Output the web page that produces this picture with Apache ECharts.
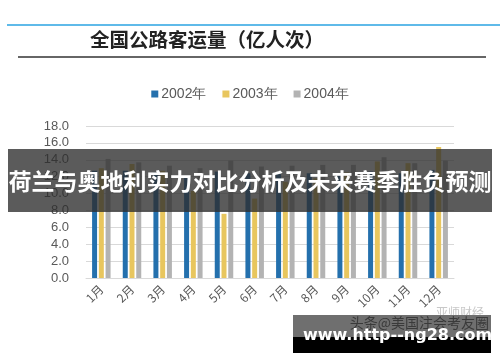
<!DOCTYPE html>
<html><head><meta charset="utf-8">
<script src="https://cdn.jsdelivr.net/npm/echarts@6/dist/echarts.min.js"></script>
<style>html,body{margin:0;padding:0;background:#fff}#c{width:500px;height:362px}</style>
</head><body><div id="c"></div>
<script>
const months = ['1月','2月','3月','4月','5月','6月','7月','8月','9月','10月','11月','12月'];
const yTicks = [0,2,4,6,8,10,12,14,16,18];
const s2002 = [12.7,12.7,12.5,12.0,12.6,12.4,12.3,12.4,12.4,12.6,12.4,12.8];
const s2003 = [13.0,13.5,12.7,10.3,7.6,9.4,11.4,11.8,12.5,13.8,13.6,15.5];
const s2004 = [14.1,13.7,13.3,13.0,13.9,13.2,13.3,13.4,13.4,14.3,13.6,13.9];
const seriesNames = ['2002年','2003年','2004年'];
const colors = ['#2470ad','#e8c65e','#b3b3b3'];

const chart = echarts.init(document.getElementById('c'));
const font = '"Noto Sans CJK SC","Noto Sans",sans-serif';
chart.setOption({
  animation:false,
  color:colors,
  textStyle:{fontFamily:font},
  legend:{
    top:82, left:'center', itemWidth:7, itemHeight:7, itemGap:16,
    icon:'rect',
    textStyle:{fontSize:14,color:'#595959',fontFamily:'"Liberation Sans",Arial,sans-serif',padding:[0,0,0,-2]},
    data:seriesNames
  },
  grid:{left:86,right:46,top:126,bottom:84},
  xAxis:{
    type:'category', data:months,
    axisLine:{lineStyle:{color:'#d9d9d9'}},
    axisTick:{show:false},
    axisLabel:{rotate:45,color:'#595959',fontSize:12,margin:9,interval:0}
  },
  yAxis:{
    type:'value', min:0, max:18, interval:2,
    axisLine:{show:false}, axisTick:{show:false},
    splitLine:{lineStyle:{color:'#d9d9d9'}},
    axisLabel:{formatter:v=>v.toFixed(1),color:'#595959',fontSize:13,margin:17,fontFamily:'"Liberation Sans",Arial,sans-serif'}
  },
  series:[
    {name:seriesNames[0],type:'bar',data:s2002,barWidth:5,barGap:'35%'},
    {name:seriesNames[1],type:'bar',data:s2003,barWidth:5,barGap:'35%'},
    {name:seriesNames[2],type:'bar',data:s2004,barWidth:5,barGap:'35%'}
  ],
  graphic:[
    {type:'line',shape:{x1:7,y1:25,x2:500,y2:25},style:{stroke:'#2aa3e2',lineWidth:1.5},z:10},
    {type:'text',left:90,top:30,style:{text:'全国公路客运量（亿人次）',fontSize:19.5,fontWeight:'bold',fill:'#222',fontFamily:font},z:10},
    {type:'line',shape:{x1:18,y1:57,x2:486,y2:57},style:{stroke:'#333',lineWidth:1.5},z:10},
    {type:'rect',shape:{x:8,y:149,width:484,height:63},style:{fill:'rgba(45,45,45,0.78)'},z:20},
    {type:'text',x:250,y:181,style:{text:'荷兰与奥地利实力对比分析及未来赛季胜负预测',fontSize:23,fontWeight:'bold',fill:'#fff',align:'center',verticalAlign:'middle',fontFamily:font},z:21},
    {type:'text',x:436,y:312,style:{text:'亚师财经',fontSize:12,fill:'#c8c8c8',align:'left',verticalAlign:'middle',fontFamily:font},z:20},
    {type:'rect',shape:{x:293,y:315,width:198,height:23},style:{fill:'#6f6f6f'},z:20},
    {type:'text',x:489,y:323,style:{text:'头条@美国注会考友圈',fontSize:14,fill:'#3a3a3a',align:'right',verticalAlign:'middle',fontFamily:font},z:21},
    {type:'rect',shape:{x:293,y:337,width:198,height:16},style:{fill:'#000'},z:20},
    {type:'text',x:303,y:336,style:{text:'www.http--ng28.com',fontSize:16,fontWeight:'bold',fill:'#fff',align:'left',verticalAlign:'middle',fontFamily:'"DejaVu Sans",sans-serif'},z:22}
  ]
});
</script></body></html>
